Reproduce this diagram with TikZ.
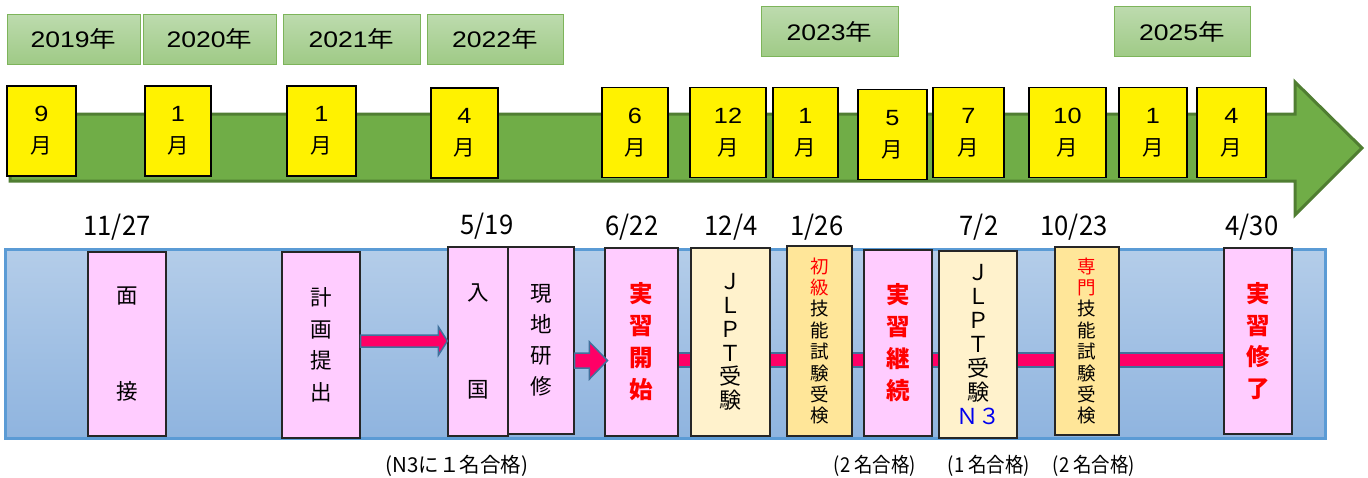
\documentclass[tikz,border=0pt]{standalone}
\usepackage{fontspec}
\setmainfont{Noto Sans CJK JP}
\newfontfamily\latinfont{Liberation Sans}
\usetikzlibrary{calc}
\definecolor{yeartop}{HTML}{BDDBAE}
\definecolor{yearbot}{HTML}{9FCA86}
\definecolor{yearline}{HTML}{7DB45A}
\definecolor{garrow}{HTML}{70AD47}
\definecolor{garrowline}{HTML}{507E32}
\definecolor{bandtop}{HTML}{B4CDE9}
\definecolor{bandbot}{HTML}{8FB4DF}
\definecolor{bandline}{HTML}{5B9BD5}
\definecolor{pinkfill}{HTML}{FFCCFF}
\definecolor{creamfill}{HTML}{FFF2CC}
\definecolor{orangefill}{HTML}{FFE699}
\definecolor{magenta}{HTML}{FF0066}
\definecolor{arrowedge}{HTML}{41719C}
\definecolor{redtxt}{HTML}{FF0000}
\definecolor{bluetxt}{HTML}{0000EE}
\newcommand{\yeartxt}[1]{\scalebox{1.18}[1]{{\latinfont #1}年}}
\newcommand{\monthtxt}[1]{\scalebox{1.15}[1]{\fontsize{22}{22}\selectfont\latinfont #1}\\月}
\begin{document}
\begin{tikzpicture}[x=1pt,y=-1pt,
  yearbox/.style={draw=yearline, line width=1pt, top color=yeartop, bottom color=yearbot,
    minimum height=50, inner sep=0pt, font=\fontsize{22.5}{22.5}\selectfont},
  monthbox/.style={draw=black, line width=1.2pt, fill=yellow, inner sep=0pt,
    minimum height=90, align=center, font=\fontsize{21.5}{32}\selectfont},
  evbox/.style={draw=black!85, line width=1.1pt, inner sep=0pt, align=center},
  pinkbox/.style={evbox, fill=pinkfill},
  creambox/.style={evbox, fill=creamfill},
  orangebox/.style={evbox, fill=orangefill},
  datelbl/.style={inner sep=0pt, font=\fontsize{27}{27}\selectfont},
  notelbl/.style={inner sep=0pt, font=\fontsize{20.5}{20.5}\selectfont},
  blockarrow/.style={draw=arrowedge, line width=1.5pt, fill=magenta, line join=miter}
]
\useasboundingbox (0,0) rectangle (1368,477);

% year boxes
\node[yearbox, minimum width=133] (y2019) at (73.5,39) {\yeartxt{2019}};
\node[yearbox, minimum width=133] (y2020) at (209.5,39) {\yeartxt{2020}};
\node[yearbox, minimum width=137] (y2021) at (351.5,39) {\yeartxt{2021}};
\node[yearbox, minimum width=136] (y2022) at (495,39) {\yeartxt{2022}};
\node[yearbox, minimum width=137] (y2023) at (829.5,31.5) {\yeartxt{2023}};
\node[yearbox, minimum width=136] (y2025) at (1182,31.5) {\yeartxt{2025}};

% green timeline arrow
\draw[draw=garrowline, line width=3pt, fill=garrow, line join=miter]
  (10,114) -- (1295,114) -- (1295,82) -- (1362,148) -- (1295,215) -- (1295,181) -- (10,181) -- cycle;

% month boxes
\node[monthbox, minimum width=69] (m1) at (41.5,131) {\monthtxt{9}};
\node[monthbox, minimum width=66] (m2) at (178,131) {\monthtxt{1}};
\node[monthbox, minimum width=69] (m3) at (321.5,131) {\monthtxt{1}};
\node[monthbox, minimum width=67] (m4) at (464.5,133) {\monthtxt{4}};
\node[monthbox, minimum width=66] (m5) at (635,132.5) {\monthtxt{6}};
\node[monthbox, minimum width=76] (m6) at (728,132.5) {\monthtxt{12}};
\node[monthbox, minimum width=65] (m7) at (805.5,132.5) {\monthtxt{1}};
\node[monthbox, minimum width=69] (m8) at (892.5,134.5) {\monthtxt{5}};
\node[monthbox, minimum width=71] (m9) at (968.5,132.5) {\monthtxt{7}};
\node[monthbox, minimum width=77] (m10) at (1067.5,132.5) {\monthtxt{10}};
\node[monthbox, minimum width=68] (m11) at (1153,132.5) {\monthtxt{1}};
\node[monthbox, minimum width=69] (m12) at (1231.5,132.5) {\monthtxt{4}};

% blue band
\draw[draw=bandline, line width=3pt, top color=bandtop, bottom color=bandbot] (5,249) rectangle (1325,438);

% magenta bar behind the boxes
\coordinate (barA) at (678,360);
\coordinate (barB) at (1224,360);
\draw[arrowedge, line width=16pt] (barA) -- (barB);
\draw[magenta, line width=12pt] (barA) -- (barB);

\node[pinkbox, minimum width=78, minimum height=184, font=\fontsize{21.5}{96}\selectfont] (mensetsu) at (127,344) {面\\接};
\node[pinkbox, minimum width=78, minimum height=186, font=\fontsize{21.5}{31.5}\selectfont] (keikaku) at (321,345) {計\\画\\提\\出};
\node[pinkbox, minimum width=60, minimum height=189, font=\fontsize{21.5}{97}\selectfont] (nyukoku) at (478,341.5) {入\\国};
\node[pinkbox, minimum width=66, minimum height=187, font=\fontsize{21.5}{31}\selectfont] (kenshu) at (541,340.5) {現\\地\\研\\修};
\node[pinkbox, minimum width=73, minimum height=188, text=redtxt, font=\fontsize{23.5}{32}\selectfont\bfseries] (kaishi) at (641.5,342) {実\\習\\開\\始};
\node[creambox, minimum width=79, minimum height=188, font=\fontsize{22}{23.7}\selectfont] (jlptA) at (730.5,342) {Ｊ\\Ｌ\\Ｐ\\Ｔ\\受\\験};
\node[orangebox, minimum width=65, minimum height=190, font=\fontsize{18.5}{21.4}\selectfont] (shokyu) at (819.5,341) {\textcolor{redtxt}{初}\\\textcolor{redtxt}{級}\\技\\能\\試\\験\\受\\検};
\node[pinkbox, minimum width=68, minimum height=186, text=redtxt, font=\fontsize{23.5}{32}\selectfont\bfseries] (keizoku) at (898,343) {実\\習\\継\\続};
\node[creambox, minimum width=78, minimum height=187, font=\fontsize{22}{24}\selectfont] (jlptB) at (978,344.5) {Ｊ\\Ｌ\\Ｐ\\Ｔ\\受\\験\\\textcolor{bluetxt}{Ｎ３}};
\node[orangebox, minimum width=64, minimum height=188, font=\fontsize{18.5}{21.4}\selectfont] (senmon) at (1087,341) {\textcolor{redtxt}{専}\\\textcolor{redtxt}{門}\\技\\能\\試\\験\\受\\検};
\node[pinkbox, minimum width=68, minimum height=186, text=redtxt, font=\fontsize{23.5}{31.7}\selectfont\bfseries] (shuryo) at (1258,341) {実\\習\\修\\了};

% block arrows
\draw[blockarrow] let \p1=(keikaku.east), \p2=(nyukoku.west) in
  (\x1,-335pt) -- (\x2-9pt,-335pt) -- (\x2-9pt,-327pt) -- (\x2,-341pt) -- (\x2-9pt,-355pt) -- (\x2-9pt,-347pt) -- (\x1,-347pt) -- cycle;
\draw[blockarrow] let \p1=(kenshu.east), \p2=(kaishi.west) in
  (\x1,-353pt) -- (\x2-15pt,-353pt) -- (\x2-15pt,-342pt) -- (\x2+3pt,-360.5pt) -- (\x2-15pt,-379pt) -- (\x2-15pt,-368pt) -- (\x1,-368pt) -- cycle;

% dates
\node[datelbl] (d1) at (117,227) {\scalebox{0.95}[1]{11/27}};
\node[datelbl] (d2) at (487,226) {\scalebox{0.95}[1]{5/19}};
\node[datelbl] (d3) at (632,227) {\scalebox{0.95}[1]{6/22}};
\node[datelbl] (d4) at (731,227) {\scalebox{0.95}[1]{12/4}};
\node[datelbl] (d5) at (817,227) {\scalebox{0.95}[1]{1/26}};
\node[datelbl] (d6) at (979,227) {\scalebox{0.95}[1]{7/2}};
\node[datelbl] (d7) at (1074,227) {\scalebox{0.95}[1]{10/23}};
\node[datelbl] (d8) at (1252,227) {\scalebox{0.95}[1]{4/30}};

% notes
\node[notelbl] (n1) at (457,466) {(N3に１名合格)};
\node[notelbl] (n2) at (875,466) {\scalebox{0.9}[1]{(2 名合格)}};
\node[notelbl] (n3) at (989,466) {\scalebox{0.9}[1]{(1 名合格)}};
\node[notelbl] (n4) at (1094,466) {\scalebox{0.9}[1]{(2 名合格)}};
\end{tikzpicture}
\end{document}
